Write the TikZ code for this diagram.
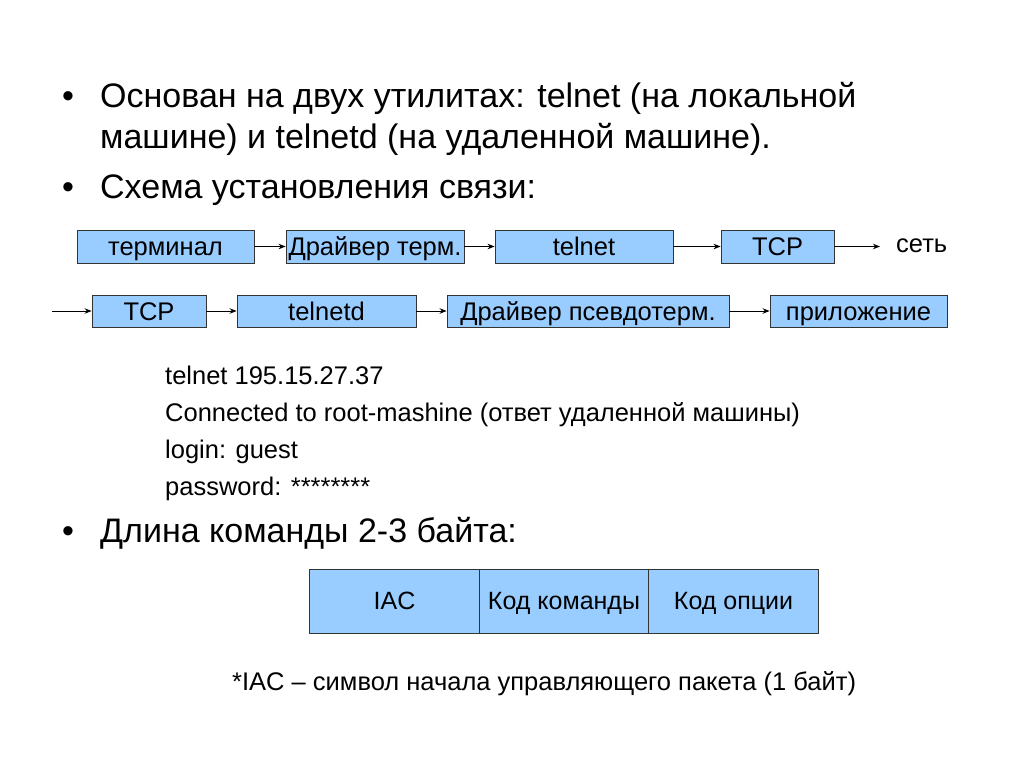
\documentclass[tikz,border=0pt]{standalone}
\usepackage{fontspec}
\setmainfont{Liberation Sans}
\usetikzlibrary{arrows.meta}
\definecolor{boxblue}{HTML}{99CCFF}
\definecolor{boxline}{HTML}{333333}
\tikzset{
  blbox/.style={draw=boxline, line width=0.9pt, fill=boxblue, inner sep=0pt, minimum height=33pt,
    font=\fontsize{25.5}{30}\selectfont, text height=23pt, text depth=4.7pt},
  cell/.style={draw=boxline, line width=0.9pt, fill=boxblue, inner sep=0pt, minimum height=64pt, minimum width=169.5pt,
    font=\fontsize{25}{30}\selectfont, text height=22.5pt, text depth=4.6pt},
  conn/.style={line width=0.9pt, -{Stealth[length=7pt,width=5.5pt]}},
  bigtxt/.style={anchor=base west, inner sep=0pt, font=\fontsize{34}{40}\selectfont},
  midtxt/.style={anchor=base west, inner sep=0pt, font=\fontsize{25.5}{30}\selectfont},
}
\begin{document}
\begin{tikzpicture}[x=1pt,y=-1pt]
\useasboundingbox (0,0) rectangle (1024,768);
% bullet text
\node[bigtxt] (b1) at (62,107) {•};
\node[bigtxt] (t1) at (100,107) {Основан на двух утилитах: telnet (на локальной};
\node[bigtxt] (t2) at (100,148) {машине) и telnetd (на удаленной машине).};
\node[bigtxt] (b2) at (62,198) {•};
\node[bigtxt] (t3) at (100,198) {Схема установления связи:};
% row 1
\node[blbox, minimum width=177pt] (term) at (165.5,246.5) {терминал};
\node[blbox, minimum width=178pt] (drv) at (375,246.5) {Драйвер терм.};
\node[blbox, minimum width=178pt] (tel) at (584,246.5) {telnet};
\node[blbox, minimum width=113pt] (tcpa) at (777.5,246.5) {TCP};
\node[anchor=base west, inner sep=0pt, font=\fontsize{25.5}{30}\selectfont] (net) at (896,252) {сеть};
\coordinate (netin) at (880,246.5);
\draw[conn] (term) -- (drv);
\draw[conn] (drv) -- (tel);
\draw[conn] (tel) -- (tcpa);
\draw[conn] (tcpa) -- (netin);
% row 2
\coordinate (inp) at (52,311);
\node[blbox, minimum width=114pt, minimum height=32pt] (tcpb) at (149,311) {TCP};
\node[blbox, minimum width=179pt, minimum height=32pt] (teld) at (326.5,311) {telnetd};
\node[blbox, minimum width=282pt, minimum height=32pt] (pdrv) at (588,311) {Драйвер псевдотерм.};
\node[blbox, minimum width=177pt, minimum height=32pt] (app) at (858.5,311) {приложение};
\draw[conn] (inp) -- (tcpb);
\draw[conn] (tcpb) -- (teld);
\draw[conn] (teld) -- (pdrv);
\draw[conn] (pdrv) -- (app);
% session text
\node[midtxt] (s1) at (165,384) {telnet 195.15.27.37};
\node[midtxt] (s2) at (165,421) {Connected to root-mashine (ответ удаленной машины)};
\node[midtxt] (s3) at (165,458) {login: guest};
\node[midtxt] (s4) at (165,495) {password: ********};
% command length
\node[bigtxt] (b3) at (62,542) {•};
\node[bigtxt] (t4) at (100,542) {Длина команды 2-3 байта:};
\node[cell] (iac) at (394.5,601) {IAC};
\node[cell] (cmd) at (564,601) {Код команды};
\node[cell] (opt) at (733.5,601) {Код опции};
\node[midtxt] (note) at (232,690) {*IAC – символ начала управляющего пакета (1 байт)};
\end{tikzpicture}
\end{document}
